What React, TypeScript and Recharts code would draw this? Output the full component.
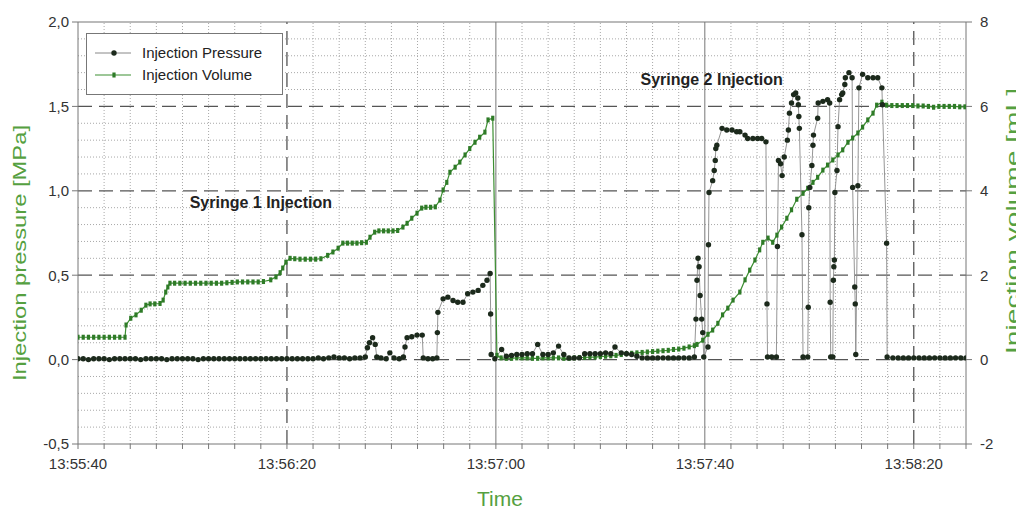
import React from 'react';
import { LineChart, Line, XAxis, YAxis, ReferenceLine, ReferenceDot, Legend } from 'recharts';

// x = seconds after 13:55:40
const pressureSamples: [number, number][] = [
  [0, 0.005], [1, 0.005], [2, 0.0], [3, 0.005], [4, 0.005], [5, 0.005], [6, 0.0], [7, 0.005], [8, 0.005], [9, 0.005],
  [10, 0.005], [11, 0.005], [12, 0.0], [13, 0.005], [14, 0.005], [15, 0.005], [16, 0.005], [17, 0.0], [18, 0.005], [19, 0.005],
  [20, 0.005], [21, 0.005], [22, 0.005], [23, 0.0], [24, 0.005], [25, 0.005], [26, 0.005], [27, 0.005], [28, 0.005], [29, 0.005],
  [30, 0.005], [31, 0.005], [32, 0.005], [33, 0.005], [34, 0.005], [35, 0.005], [36, 0.005], [37, 0.005], [38, 0.005], [39, 0.005],
  [40, 0.005], [41, 0.005], [42, 0.005], [43, 0.005], [44, 0.005], [45, 0.005], [46, 0.01], [47, 0.005], [48, 0.01], [49, 0.015],
  [50, 0.01], [51, 0.01], [52, 0.005], [53, 0.01], [54, 0.01], [55, 0.015],
  [55.4, 0.07], [55.8, 0.1], [56.4, 0.13], [56.9, 0.09], [57.2, 0.015], [58, 0.01], [59, 0.005], [59.7, 0.04], [60.5, 0.01], [61.5, 0.005], [62.3, 0.015],
  [62.6, 0.075], [63.0, 0.13], [63.9, 0.135], [64.9, 0.145], [65.9, 0.145], [66.1, 0.01], [67, 0.005], [67.9, 0.005], [68.7, 0.01],
  [68.8, 0.16], [68.9, 0.28], [69.9, 0.36], [70.8, 0.37], [71.8, 0.35], [72.7, 0.34], [73.7, 0.34], [74.6, 0.39], [75.6, 0.4],
  [76.6, 0.41], [77.5, 0.44], [78.3, 0.47], [78.9, 0.51], [79.0, 0.27], [79.1, 0.03], [79.8, 0.005], [81.1, 0.06],
  [82, 0.02], [83, 0.025], [84, 0.03], [85, 0.03], [86, 0.035], [87, 0.035], [88, 0.09], [89, 0.03], [90, 0.03], [91, 0.04],
  [92, 0.08], [93, 0.03], [94, 0.01], [95, 0.01], [96, 0.01], [97, 0.035], [98, 0.035], [99, 0.035], [100, 0.035], [101, 0.04],
  [102, 0.035], [102.8, 0.075], [104, 0.04], [105, 0.035], [106, 0.03], [107, 0.02], [108, 0.01], [109, 0.01], [110, 0.01],
  [111, 0.01], [112, 0.01], [113, 0.01], [114, 0.01], [115, 0.01], [116, 0.01], [117, 0.01], [118, 0.015],
  [118.3, 0.24], [118.5, 0.47], [118.7, 0.6], [118.9, 0.55], [119.1, 0.38], [119.4, 0.24], [119.6, 0.16], [119.8, 0.015],
  [120.6, 0.075], [120.7, 0.68], [120.8, 0.99], [121.5, 1.06], [121.8, 1.12], [122.0, 1.18], [122.1, 1.25], [122.3, 1.27],
  [123.3, 1.37], [124.2, 1.36], [125.2, 1.36], [126.1, 1.35], [126.7, 1.35], [127.7, 1.33], [128.2, 1.31], [129.2, 1.31],
  [130.1, 1.31], [130.9, 1.31], [131.7, 1.29], [131.9, 0.33], [132.0, 0.015], [132.8, 0.015], [133.7, 0.015],
  [133.9, 0.67], [134.1, 1.18], [134.5, 1.16], [134.8, 1.09], [135.2, 1.2], [135.8, 1.3], [136.0, 1.36], [136.2, 1.46],
  [136.6, 1.52], [137.0, 1.57], [137.4, 1.58], [137.8, 1.55], [137.9, 1.51], [138.0, 1.44], [138.1, 1.37], [138.6, 0.74],
  [138.8, 0.015], [139.7, 0.015], [139.8, 0.31], [139.9, 0.9], [140.1, 1.02], [140.5, 1.15], [140.7, 1.27], [140.8, 1.33],
  [141.6, 1.43], [141.7, 1.52], [142.6, 1.53], [143.5, 1.54], [143.9, 1.52], [144.0, 0.34], [144.1, 0.015], [144.5, 0.015],
  [144.6, 0.47], [144.7, 0.55], [144.8, 0.59], [144.9, 0.99], [145.3, 1.12], [145.5, 1.38], [145.8, 1.54], [146.2, 1.57],
  [146.4, 1.58], [146.8, 1.63], [146.9, 1.67], [147.6, 1.7], [148.2, 1.67], [148.3, 1.02], [148.7, 0.43], [148.8, 0.33],
  [148.9, 0.03], [149.3, 1.03], [149.5, 1.61], [150.2, 1.69], [151.2, 1.67], [152.2, 1.67], [153.1, 1.67], [153.9, 1.61],
  [154.0, 1.51], [154.8, 0.69], [154.9, 0.015], [156, 0.01], [157, 0.01], [158, 0.01], [159, 0.01], [160, 0.01],
  [161, 0.01], [162, 0.01], [163, 0.01], [164, 0.01], [165, 0.01], [166, 0.01], [167, 0.01], [168, 0.01], [169, 0.01], [170, 0.01],
];

const volumeSamples: [number, number][] = [
  [0, 0.53], [1, 0.53], [2, 0.53], [3, 0.53], [4, 0.53], [5, 0.53], [6, 0.53], [7, 0.53], [8, 0.53], [9, 0.53],
  [9.2, 0.82], [10.1, 0.98], [11.1, 1.06], [12.1, 1.17], [13.0, 1.29], [13.8, 1.32], [14.7, 1.32], [15.7, 1.33],
  [16.3, 1.41], [16.8, 1.6], [17.2, 1.72], [17.6, 1.81], [18.5, 1.81], [19.5, 1.81], [20.5, 1.81], [21.5, 1.81],
  [22.5, 1.81], [23.5, 1.81], [24.5, 1.81], [25.5, 1.81], [26.5, 1.81], [27.5, 1.81], [28.5, 1.82], [29.5, 1.83],
  [30.5, 1.84], [31.5, 1.84], [32.5, 1.84], [33.5, 1.84], [34.5, 1.84], [35.5, 1.85], [36.9, 1.89], [37.9, 1.96],
  [38.7, 2.06], [39.2, 2.17], [39.8, 2.31], [40.6, 2.4], [41.5, 2.39], [42.5, 2.38], [43.5, 2.38], [44.5, 2.38],
  [45.5, 2.38], [46.5, 2.39], [47.8, 2.47], [48.8, 2.55], [49.8, 2.64], [50.7, 2.76], [51.6, 2.76], [52.5, 2.76],
  [53.4, 2.76], [54.3, 2.77], [55.2, 2.78], [55.9, 2.9], [56.8, 3.02], [57.6, 3.05], [58.5, 3.05], [59.4, 3.05],
  [60.3, 3.05], [61.2, 3.06], [62.2, 3.14], [63.0, 3.23], [63.9, 3.35], [64.9, 3.47], [65.8, 3.59], [66.6, 3.61],
  [67.5, 3.61], [68.4, 3.62], [69.3, 3.78], [69.9, 4.02], [70.6, 4.2], [71.2, 4.44], [72.2, 4.56], [73.1, 4.68],
  [74.1, 4.85], [75.0, 5.0], [76.0, 5.15], [76.9, 5.27], [77.9, 5.39], [78.5, 5.68], [79.4, 5.72], [80.2, 0.1],
  [81, 0.04], [82, 0.03], [83, 0.03], [84, 0.04], [85, 0.04], [86, 0.04], [87, 0.03], [88, 0.03], [89, 0.04], [90, 0.04],
  [91, 0.04], [92, 0.04], [93, 0.03], [94, 0.03], [95, 0.04], [96, 0.05], [97, 0.05], [98, 0.06], [99, 0.06], [100, 0.07],
  [101, 0.08], [102, 0.09], [103, 0.1], [104, 0.12], [105, 0.14], [106, 0.15], [107, 0.16], [108, 0.17], [109, 0.18],
  [110, 0.19], [111, 0.2], [112, 0.21], [113, 0.22], [114, 0.24], [115, 0.25], [116, 0.27], [117, 0.3], [118, 0.33],
  [118.5, 0.36], [119.6, 0.46], [120.6, 0.6], [121.5, 0.7], [122.5, 0.86], [123.4, 1.06], [124.4, 1.22], [125.4, 1.41],
  [126.7, 1.6], [127.7, 1.89], [128.6, 2.12], [129.6, 2.36], [130.5, 2.6], [131.1, 2.78], [132.1, 2.88], [133.0, 2.78],
  [133.8, 2.95], [134.7, 3.14], [135.7, 3.35], [136.6, 3.55], [137.6, 3.8], [138.8, 3.94], [139.7, 4.06], [140.7, 4.2],
  [141.6, 4.32], [142.6, 4.49], [143.5, 4.61], [144.5, 4.73], [145.5, 4.85], [146.4, 4.97], [147.4, 5.15], [148.3, 5.25],
  [149.3, 5.37], [150.2, 5.51], [151.2, 5.68], [152.2, 5.84], [152.9, 6.03], [153.9, 6.1], [154.8, 6.03], [155.8, 6.02],
  [156.8, 6.02], [157.8, 6.02], [158.8, 6.02], [159.8, 6.02], [160.8, 6.01], [161.8, 6.01], [162.8, 6.0], [163.8, 5.98],
  [164.8, 6.0], [165.8, 6.0], [166.8, 6.0], [167.8, 6.0], [168.8, 5.99], [169.8, 5.99],
];

const xTicks = [0, 5, 10, 15, 20, 25, 30, 35, 40, 45, 50, 55, 60, 65, 70, 75, 80, 85, 90, 95, 100, 105, 110, 115, 120, 125, 130, 135, 140, 145, 150, 155, 160, 165, 170];
const xLabelTicks = [0, 40, 80, 120, 160];
const leftTicks = [-0.5, 0, 0.5, 1, 1.5, 2];
const rightTicks = [-2, 0, 2, 4, 6, 8];
const minorYLines = [-0.4, -0.3, -0.2, -0.1, 0.1, 0.2, 0.3, 0.4, 0.6, 0.7, 0.8, 0.9, 1.1, 1.2, 1.3, 1.4, 1.6, 1.7, 1.8, 1.9];
const minorXLines = [5, 10, 15, 20, 25, 30, 35, 45, 50, 55, 60, 65, 70, 75, 85, 90, 95, 100, 105, 110, 115, 125, 130, 135, 140, 145, 150, 155, 165];
const majorYLines = [0, 0.5, 1, 1.5];
const majorXDashed = [40, 160];
const majorXSolid = [80, 120];
const annotations = [
  { text: 'Syringe 1 Injection', t: 35, p: 0.93 },
  { text: 'Syringe 2 Injection', t: 121.3, p: 1.66 },
];

const pressureData = pressureSamples.map(([t, p]) => ({ t, p }));
const volumeData = volumeSamples.map(([t, v]) => ({ t, v }));

const FONT = '"Liberation Sans", Arial, Helvetica, sans-serif';
const TITLE_GREEN = '#55a040';
const START = 13 * 3600 + 55 * 60 + 40;

function fmtTime(v: number): string {
  if (!xLabelTicks.includes(v)) return '';
  const s = START + v;
  const h = Math.floor(s / 3600);
  const m = Math.floor((s % 3600) / 60);
  const sec = s % 60;
  return `${h}:${String(m).padStart(2, '0')}:${String(sec).padStart(2, '0')}`;
}

const PressureDot = (props: any) => {
  const { cx, cy, index } = props;
  if (cx == null || cy == null) return <g key={`pd${index}`} />;
  return <circle key={`pd${index}`} cx={cx} cy={cy} r={2.7} fill="#1c2a1c" />;
};

const VolumeDot = (props: any) => {
  const { cx, cy, index } = props;
  if (cx == null || cy == null) return <g key={`vd${index}`} />;
  return <rect key={`vd${index}`} x={cx - 1.6} y={cy - 2.5} width={3.2} height={5} fill="#2e7b27" />;
};

const LegendBox = () => (
  <div
    style={{
      width: 195,
      height: 60,
      border: '1px solid #777',
      background: '#fff',
      fontFamily: FONT,
      fontSize: 15,
      color: '#222',
      position: 'relative',
    }}
  >
    <svg width={50} height={60} style={{ position: 'absolute', left: 0, top: 0 }}>
      <line x1={8} x2={44} y1={19} y2={19} stroke="#888" strokeWidth={1} />
      <circle cx={27} cy={19} r={2.7} fill="#1c2a1c" />
      <line x1={8} x2={44} y1={41} y2={41} stroke="#3d8f32" strokeWidth={1.2} />
      <rect x={25.4} y={38.5} width={3.2} height={5} fill="#2e7b27" />
    </svg>
    <div style={{ position: 'absolute', left: 55, top: 10, whiteSpace: 'nowrap' }}>Injection Pressure</div>
    <div style={{ position: 'absolute', left: 55, top: 32, whiteSpace: 'nowrap' }}>Injection Volume</div>
  </div>
);

export default function App() {
  return (
    <div style={{ width: 1016, height: 501, fontFamily: FONT }}>
      <style>{`html, body { overflow: hidden; }`}</style>
      <LineChart width={1016} height={501} margin={{ top: 14, right: 8, bottom: 8, left: 0 }}>
        {minorYLines.map((y) => (
          <ReferenceLine key={`my${y}`} y={y} yAxisId="left" stroke="#a8a8a8" strokeDasharray="1 2" strokeWidth={1} />
        ))}
        {minorXLines.map((x) => (
          <ReferenceLine key={`mx${x}`} x={x} yAxisId="left" stroke="#a8a8a8" strokeDasharray="1 2" strokeWidth={1} />
        ))}
        {majorYLines.map((y) => (
          <ReferenceLine key={`My${y}`} y={y} yAxisId="left" stroke="#555" strokeDasharray="14 7" strokeWidth={1.3} />
        ))}
        {majorXDashed.map((x) => (
          <ReferenceLine key={`Mxd${x}`} x={x} yAxisId="left" stroke="#555" strokeDasharray="14 7" strokeWidth={1.3} />
        ))}
        {majorXSolid.map((x) => (
          <ReferenceLine key={`Mxs${x}`} x={x} yAxisId="left" stroke="#777" strokeWidth={1} />
        ))}
        <ReferenceLine y={2} yAxisId="left" stroke="#777" strokeWidth={1.2} />
        <XAxis
          dataKey="t"
          type="number"
          domain={[0, 170]}
          ticks={xTicks}
          interval={0}
          tickFormatter={fmtTime}
          tickSize={5}
          tickMargin={9}
          stroke="#777"
          tick={{ fill: '#333', fontSize: 15, fontFamily: FONT }}
          height={57}
          allowDataOverflow
          label={(props: any) => {
            const vb = props.viewBox;
            return (
              <text x={vb.x + 422} y={vb.y + 62} textAnchor="middle" fill={TITLE_GREEN} fontSize={21} fontFamily={FONT}>
                Time
              </text>
            );
          }}
        />
        <YAxis
          yAxisId="left"
          orientation="left"
          domain={[-0.5, 2]}
          ticks={leftTicks}
          interval={0}
          width={70}
          tickSize={6}
          tickMargin={3}
          stroke="#777"
          tickFormatter={(v: number) => v.toFixed(1).replace('.', ',')}
          tick={{ fill: '#333', fontSize: 15, fontFamily: FONT }}
          allowDataOverflow
          label={(props: any) => {
            const vb = props.viewBox;
            const x = vb.x + 11;
            const y = vb.y + 231;
            return (
              <text x={x} y={y} textAnchor="middle" dominantBaseline="central" transform={`rotate(-90, ${x}, ${y})`} fill={TITLE_GREEN} fontSize={19} fontFamily={FONT} textLength={256} lengthAdjust="spacingAndGlyphs">
                Injection pressure [MPa]
              </text>
            );
          }}
        />
        <YAxis
          yAxisId="right"
          orientation="right"
          domain={[-2, 8]}
          ticks={rightTicks}
          interval={0}
          width={50}
          tickSize={6}
          tickMargin={8}
          stroke="#777"
          tick={{ fill: '#333', fontSize: 15, fontFamily: FONT }}
          allowDataOverflow
          label={(props: any) => {
            const vb = props.viewBox;
            const x = vb.x + 46;
            const y = vb.y + 199;
            return (
              <text x={x} y={y} textAnchor="middle" dominantBaseline="central" transform={`rotate(-90, ${x}, ${y})`} fill={TITLE_GREEN} fontSize={19} fontFamily={FONT} textLength={266} lengthAdjust="spacingAndGlyphs">
                Injection volume [mL]
              </text>
            );
          }}
        />
        {annotations.map((a) => (
          <ReferenceDot
            key={a.text}
            x={a.t}
            y={a.p}
            yAxisId="left"
            r={0}
            fill="none"
            stroke="none"
            ifOverflow="visible"
            label={{ value: a.text, position: 'center', fill: '#222', fontSize: 16, fontWeight: 'bold', fontFamily: FONT }}
          />
        ))}
        <Line
          data={volumeData}
          dataKey="v"
          yAxisId="right"
          type="linear"
          stroke="#3d8f32"
          strokeWidth={1.2}
          dot={VolumeDot}
          activeDot={false}
          isAnimationActive={false}
          name="Injection Volume"
        />
        <Line
          data={pressureData}
          dataKey="p"
          yAxisId="left"
          type="linear"
          stroke="#8a8a8a"
          strokeWidth={0.9}
          dot={PressureDot}
          activeDot={false}
          isAnimationActive={false}
          name="Injection Pressure"
        />
        <Legend
          layout="horizontal"
          verticalAlign="middle"
          align="center"
          content={() => <LegendBox />}
          wrapperStyle={{ left: 78, top: 25, width: 197, height: 62 }}
        />
      </LineChart>
    </div>
  );
}
